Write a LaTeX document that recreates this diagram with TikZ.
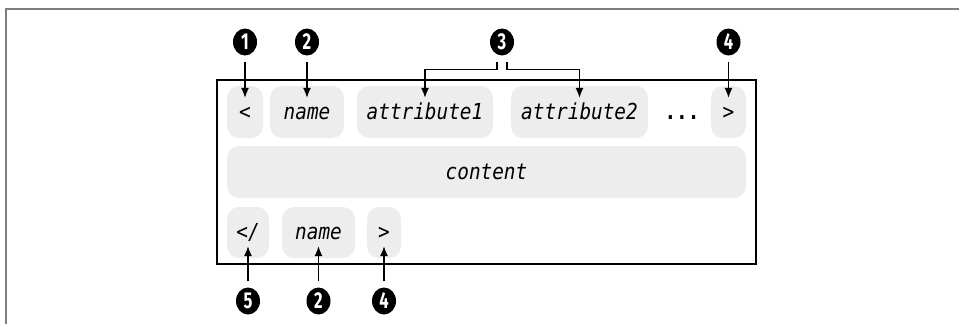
\documentclass[tikz,border=0pt]{standalone}
\usepackage{fontspec}
\usetikzlibrary{arrows.meta,shapes.geometric,calc}
\newfontfamily\codefont[FakeStretch=0.88]{DejaVu Sans Mono}
\newfontfamily\numfont[FakeStretch=0.72]{Fira Sans}
\definecolor{boxfill}{HTML}{EDEDED}
\definecolor{framegray}{HTML}{7F7F7F}
\tikzset{
  part/.style={fill=boxfill, rounded corners=12pt, inner sep=0pt, anchor=center,
    font=\codefont\itshape\fontsize{22}{24}\selectfont, text height=16pt, text depth=2pt},
  num/.style={ellipse, fill=black, text=white, minimum width=24pt, minimum height=27pt,
    inner sep=0pt, font=\numfont\bfseries\fontsize{23}{23}\selectfont},
  arr/.style={line width=1.2pt, -{Latex[length=10pt,width=8pt]}},
}
\begin{document}
\begin{tikzpicture}[x=1pt,y=-1pt]
\useasboundingbox (0,0) rectangle (959,324);
% outer frame
\draw[framegray, line width=2pt] (6,324) -- (6,9) -- (959,9);
% main box
\node[draw, line width=2.8pt, minimum width=539pt, minimum height=184pt, inner sep=0pt] (box) at (486.5,172) {};
% top row
\node[part, minimum width=36pt, minimum height=52pt] (lt) at (245,112) {<};
\node[part, minimum width=74pt, minimum height=52pt] (name1) at (307,112) {name};
\node[part, minimum width=136pt, minimum height=52pt] (attr1) at (425,112) {attribute1};
\node[part, minimum width=137pt, minimum height=52pt] (attr2) at (579.5,112) {attribute2};
\node[part, fill=none, minimum width=30pt, minimum height=52pt] (dots) at (682,112) {\upshape\bfseries...};
\node[part, minimum width=35pt, minimum height=52pt] (gt1) at (728.5,112) {>};
% content
\node[part, minimum width=519pt, minimum height=52pt] (content) at (486.5,172) {content};
% bottom row
\node[part, minimum width=42pt, minimum height=51pt] (lts) at (248,232.5) {</};
\node[part, minimum width=73pt, minimum height=51pt] (name2) at (318.5,232.5) {name};
\node[part, minimum width=34pt, minimum height=51pt] (gt2) at (384,232.5) {>};
% callout numbers top
\node[num] (c1) at (lt.north |- 0,42) {1};
\node[num] (c2) at (name1.north |- 0,42) {2};
\node[num] (c3) at (502,42) {3};
\node[num] (c4) at (gt1.north |- 0,42) {4};
% callout numbers bottom
\node[num] (c5) at (lts.south |- 0,301) {5};
\node[num] (c2b) at (name2.south |- 0,301) {2};
\node[num] (c4b) at (gt2.south |- 0,301) {4};
% arrows top
\draw[arr] ([yshift=-6pt]c1.south) -- ([yshift=-12pt]lt.north);
\draw[arr] ([yshift=-6pt]c2.south) -- ([yshift=-12pt]name1.north);
\draw[arr] ([yshift=-6pt]c4.south) -- ([yshift=-12pt]gt1.north);
\draw[arr] ([xshift=-5pt,yshift=-6pt]c3.south) -- ++(0,8) -| ([yshift=-12pt]attr1.north);
\draw[arr] ([xshift=5pt,yshift=-6pt]c3.south) -- ++(0,8) -| ([yshift=-12pt]attr2.north);
% arrows bottom
\draw[arr] ([yshift=6pt]c5.north) -- ([yshift=12pt]lts.south);
\draw[arr] ([yshift=6pt]c2b.north) -- ([yshift=12pt]name2.south);
\draw[arr] ([yshift=6pt]c4b.north) -- ([yshift=12pt]gt2.south);
\end{tikzpicture}
\end{document}
